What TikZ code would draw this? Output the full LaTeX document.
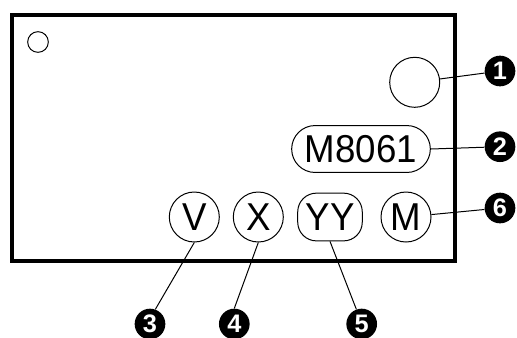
\documentclass[tikz,border=0pt]{standalone}
\usepackage{fontspec}
\usepackage{graphicx}
\setmainfont{Liberation Sans}
\usetikzlibrary{shapes.misc}
\newcommand{\tallglyphs}[1]{\scalebox{1}[1.06]{#1}}
\begin{document}
\begin{tikzpicture}[x=0.75pt,y=-0.75pt,
  ring/.style={draw=black,line width=0.75pt,circle,inner sep=0pt,minimum size=37.5pt,font=\fontsize{27.5}{30}\selectfont},
  pill/.style={draw=black,line width=0.75pt,rounded rectangle,inner sep=0pt,font=\fontsize{27.5}{30}\selectfont},
  badge/.style={fill=black,circle,inner sep=0pt,minimum size=23pt,text=white,font=\fontsize{19}{20}\selectfont\bfseries},
  lead/.style={draw=black,line width=0.75pt}]
\useasboundingbox (0,0) rectangle (517,337);
\begin{scope}
\clip (0,0) rectangle (517,337);
\draw[line width=3pt] (12,15) rectangle (455,261);
\node[ring,minimum size=15.5pt] (dot) at (38,42) {};
\node[ring] (big) at (414.7,82.3) {};
\node[pill,minimum width=104pt,minimum height=35.2pt] (model) at (361,149) {\tallglyphs{M8061}\hspace{8pt}};
\node[ring] (v) at (194.3,217) {\tallglyphs{V}};
\node[ring] (x) at (258.3,217) {\tallglyphs{X}};
\node[draw=black,line width=0.75pt,rectangle,rounded corners=14pt,inner sep=0pt,minimum width=48.4pt,minimum height=35.8pt,font=\fontsize{27.5}{30}\selectfont] (yy) at (330,217) {\tallglyphs{YY}};
\node[ring] (m) at (406,217) {\tallglyphs{M}};
\node[badge] (b1) at (500,71) {1};
\node[badge] (b2) at (500,146.7) {2};
\node[badge] (b3) at (150,324) {3};
\node[badge] (b4) at (234.3,324) {4};
\node[badge] (b5) at (361.7,324) {5};
\node[badge] (b6) at (500,208) {6};
\draw[lead] (big) -- (b1);
\draw[lead] (model.east) -- (b2);
\draw[lead] (v.south) -- (b3.70);
\draw[lead] (x.south) -- (b4.north);
\draw[lead] (yy.south) -- (b5.110);
\draw[lead] (m) -- (b6);
\end{scope}
\end{tikzpicture}
\end{document}
